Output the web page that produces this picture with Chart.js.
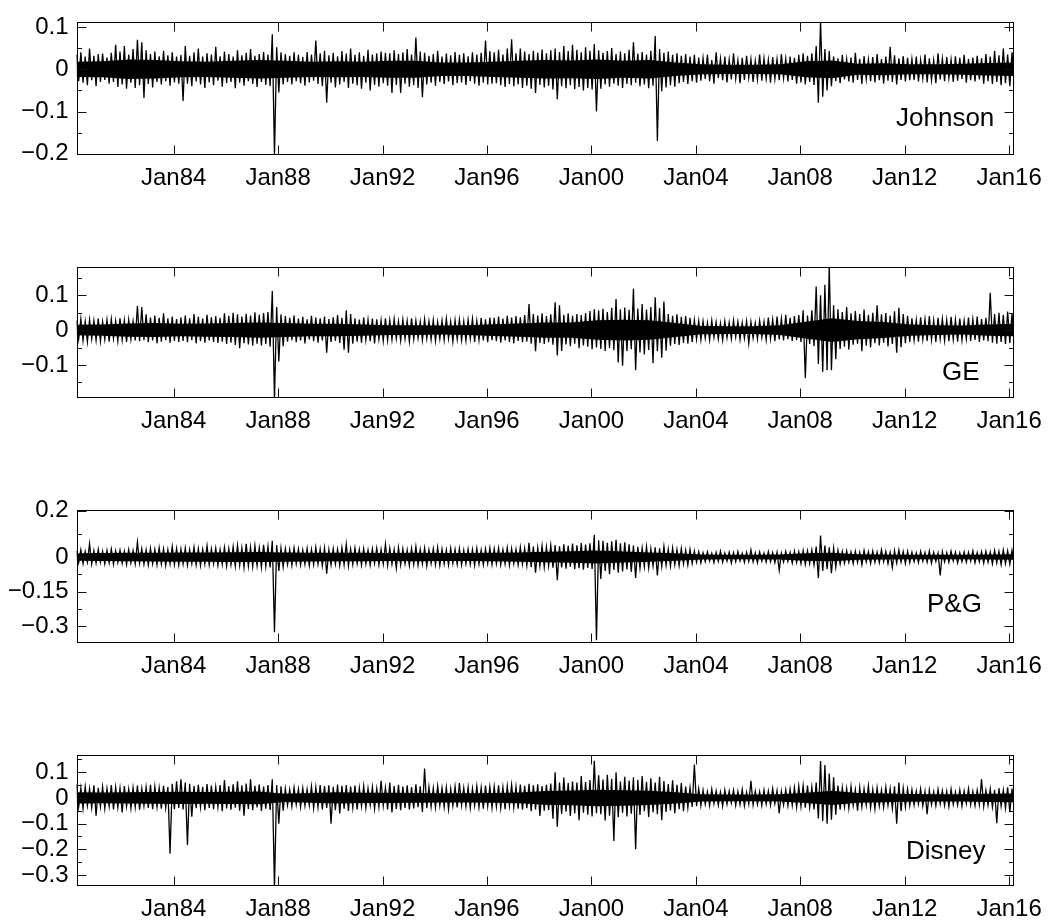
<!DOCTYPE html>
<html>
<head>
<meta charset="utf-8">
<title>Daily returns</title>
<script src="https://cdn.jsdelivr.net/npm/chart.js@4.4.1/dist/chart.umd.min.js"></script>
<style>
  body { margin: 0; background: #fff; width: 1051px; height: 921px; position: relative; overflow: hidden; }
  canvas { position: absolute; left: 0; }
</style>
</head>
<body>
<canvas id="jnj" width="1051" height="205" style="top:0px"></canvas>
<canvas id="ge" width="1051" height="203" style="top:245px"></canvas>
<canvas id="pg" width="1051" height="205" style="top:488px"></canvas>
<canvas id="dis" width="1051" height="203" style="top:733px"></canvas>
<script>
// Daily returns, summarised as high / low per two-month bin (in percent),
// bins start in April 1980 and run to early 2016. Rows are four years each.
const binStart = 1980.277;
const stepYears = 1 / 12;

const tickYears = [1984, 1988, 1992, 1996, 2000, 2004, 2008, 2012, 2016];
const tickLabels = ['Jan84', 'Jan88', 'Jan92', 'Jan96', 'Jan00', 'Jan04', 'Jan08', 'Jan12', 'Jan16'];

const jnjHi = [
  3.5, 4.0, 3.0, 4.9, 3.2, 3.6, 3.7, 2.8, 3.9, 5.8, 4.2, 5.5, 3.5, 4.8, 7.0, 6.4, 4.5, 3.6, 4.2, 3.1, 4.4, 3.3, 4.0, 3.0,
  3.4, 5.5, 3.2, 4.0, 4.9, 3.0, 3.8, 3.5, 5.3, 3.1, 4.2, 3.6, 3.0, 4.5, 3.3, 3.9, 4.8, 3.2, 3.6, 4.1, 3.5, 8.3, 5.2, 4.0,
  3.6, 3.2, 4.0, 3.4, 2.9, 4.1, 3.5, 6.8, 3.8, 4.4, 3.3, 3.9, 3.1, 4.3, 3.7, 4.9, 3.4, 4.0, 3.2, 4.6, 3.5, 3.8, 4.2, 3.9,
  3.8, 4.5, 3.6, 4.0, 4.8, 3.5, 7.5, 4.2, 3.9, 3.2, 3.6, 4.4, 3.0, 3.7, 3.3, 4.1, 3.4, 3.8, 3.1, 4.0, 3.5, 3.9, 6.8, 4.3,
  4.0, 4.6, 3.5, 4.9, 7.1, 3.8, 4.9, 4.2, 3.6, 4.4, 3.9, 4.7, 3.8, 4.5, 4.9, 4.1, 5.5, 4.3, 5.8, 4.6, 4.0, 5.2, 4.4, 6.0,
  4.5, 3.9, 4.3, 5.0, 3.6, 4.2, 3.8, 4.6, 6.4, 3.7, 4.1, 3.5, 4.4, 7.9, 4.8, 3.9, 4.2, 3.4, 3.8, 3.2, 3.6, 3.0, 3.4, 2.8,
  2.6, 3.4, 2.2, 4.0, 2.5, 3.0, 2.3, 3.8, 2.1, 2.7, 3.2, 2.4, 2.0, 3.5, 2.6, 2.2, 2.9, 2.4, 3.6, 2.5, 3.0, 2.7, 3.4, 3.8,
  3.2, 3.8, 5.5, 11.5, 4.8, 4.3, 3.0, 2.6, 3.4, 2.4, 2.8, 3.9, 2.5, 3.1, 2.3, 2.9, 3.6, 2.4, 3.0, 5.3, 3.3, 2.6, 3.1, 2.7,
  2.4, 3.0, 2.2, 3.5, 2.6, 2.1, 3.8, 2.5, 2.9, 2.3, 3.1, 2.7, 3.4, 2.4, 2.8, 3.2, 2.6, 3.6, 3.0, 4.4, 3.3, 4.9, 3.5, 4.0
];
const jnjLo = [
  -2.8, -3.2, -3.8, -2.6, -4.0, -3.0, -2.5, -3.4, -3.0, -4.2, -3.6, -4.6, -3.2, -4.4, -3.8, -6.8, -3.5, -4.3, -3.0, -3.6, -2.8, -3.9, -3.1, -3.4,
  -7.5, -3.4, -4.0, -2.9, -3.6, -4.4, -3.1, -3.8, -2.7, -4.1, -3.3, -3.0, -4.5, -3.2, -3.9, -2.8, -3.5, -4.2, -3.0, -3.7, -4.0, -20.5, -5.5, -3.6,
  -3.0, -3.6, -2.8, -3.3, -3.9, -3.1, -2.7, -3.5, -4.0, -7.9, -3.2, -4.3, -3.6, -3.0, -4.4, -3.4, -3.8, -4.6, -3.2, -5.0, -3.7, -4.1, -3.3, -3.9,
  -5.6, -3.7, -5.6, -3.4, -4.1, -3.8, -4.4, -6.6, -3.6, -3.2, -3.9, -3.0, -3.5, -2.9, -3.8, -3.3, -3.1, -3.7, -2.8, -3.4, -3.9, -3.2, -3.6, -3.4,
  -3.3, -3.8, -4.2, -3.5, -4.0, -3.6, -4.4, -3.9, -4.6, -5.6, -3.7, -4.3, -3.9, -4.8, -7.1, -4.0, -4.5, -3.8, -4.7, -4.2, -5.0, -4.4, -4.8, -10.0,
  -4.6, -3.6, -4.1, -3.4, -3.9, -4.4, -3.5, -3.8, -3.2, -4.0, -3.6, -4.5, -3.9, -17.0, -5.2, -4.3, -3.8, -4.1, -3.3, -3.0, -3.5, -2.8, -3.2, -2.7,
  -2.3, -2.8, -3.4, -2.1, -2.6, -3.1, -2.4, -2.2, -3.3, -2.5, -2.0, -3.0, -2.4, -2.7, -2.2, -3.2, -2.3, -2.6, -2.1, -2.9, -2.5, -3.4, -3.1, -3.6,
  -3.0, -3.7, -7.9, -6.5, -5.0, -4.0, -2.8, -3.3, -2.4, -2.9, -3.2, -2.5, -3.5, -2.3, -2.8, -3.1, -2.6, -3.4, -2.7, -3.0, -3.6, -2.5, -2.9, -2.6,
  -2.5, -2.9, -2.2, -3.1, -2.6, -3.3, -2.4, -2.8, -2.1, -3.0, -2.7, -2.3, -3.2, -2.6, -2.9, -2.4, -3.4, -2.8, -3.5, -3.0, -3.8, -3.3, -4.0, -3.5
];
// half-width of the dense part of the band, one value per year
const jnjCore = [1.8, 1.9, 2.3, 2.2, 1.9, 1.8, 2.0, 2.2, 2.0, 1.8, 1.9, 1.8, 2.0, 2.0, 1.6, 1.6, 1.8, 2.0, 2.2, 2.1, 2.3, 2.0, 2.2, 1.6, 1.2, 1.1, 1.1, 1.2, 1.9, 2.1, 1.3, 1.4, 1.2, 1.2, 1.3, 1.5, 1.6];

const geHi = [
  2.8, 3.2, 2.5, 3.0, 2.7, 3.3, 2.4, 2.9, 3.1, 2.6, 3.4, 2.8, 3.0, 2.5, 7.0, 6.6, 4.5, 3.6, 4.2, 3.5, 4.8, 3.4, 3.9, 3.2,
  3.6, 4.2, 3.4, 4.6, 3.8, 3.3, 4.4, 3.7, 4.0, 3.5, 4.8, 4.1, 5.0, 4.5, 3.9, 4.7, 4.2, 5.1, 4.4, 4.9, 5.2, 11.2, 6.6, 4.5,
  4.0, 3.5, 4.2, 3.3, 3.8, 3.1, 4.1, 3.6, 3.4, 3.9, 3.2, 3.7, 4.3, 3.5, 5.7, 4.6, 3.4, 3.0, 3.6, 2.9, 3.3, 3.1, 2.8, 3.4,
  2.8, 3.2, 2.5, 3.0, 2.6, 3.4, 2.7, 2.4, 3.1, 2.5, 2.9, 2.3, 2.7, 3.3, 2.4, 2.8, 3.0, 2.5, 2.9, 3.2, 2.6, 3.5, 3.1, 3.6,
  3.5, 3.9, 3.3, 4.1, 3.6, 4.0, 3.7, 4.3, 7.5, 4.6, 4.2, 4.8, 4.0, 4.5, 8.0, 7.1, 4.4, 4.8, 4.1, 4.6, 4.3, 4.9, 5.5, 6.0,
  5.6, 6.1, 5.2, 6.4, 8.9, 6.0, 6.5, 5.8, 11.9, 6.2, 7.5, 5.9, 6.6, 9.4, 6.3, 8.2, 4.6, 4.1, 4.5, 3.8, 4.0, 3.5, 2.8, 2.6,
  2.5, 2.1, 2.7, 2.3, 2.0, 2.6, 2.2, 2.8, 2.4, 2.1, 2.5, 2.3, 2.0, 2.7, 2.4, 3.6, 3.0, 3.9, 3.3, 4.4, 3.5, 4.0, 4.3, 5.7,
  4.2, 5.7, 12.5, 10.0, 13.0, 18.5, 7.1, 6.0, 5.2, 6.6, 4.8, 5.5, 4.6, 5.9, 4.4, 5.0, 7.1, 4.5, 4.9, 4.2, 5.4, 6.4, 4.6, 4.1,
  3.4, 2.9, 3.7, 3.1, 4.0, 2.8, 3.5, 3.2, 2.9, 3.8, 3.0, 3.3, 2.7, 3.6, 3.1, 3.9, 3.2, 3.5, 10.7, 4.6, 5.0, 4.4, 5.3, 4.8
];
const geLo = [
  -2.6, -3.0, -3.4, -2.5, -2.9, -3.2, -2.7, -3.3, -2.4, -3.1, -2.8, -3.4, -2.6, -3.0, -3.2, -2.9, -3.5, -3.0, -3.8, -3.3, -2.9, -3.6, -3.1, -3.4,
  -3.1, -3.5, -2.9, -3.8, -3.2, -3.6, -3.0, -3.4, -3.7, -3.3, -4.0, -3.6, -4.3, -5.2, -3.8, -4.1, -4.5, -3.9, -4.4, -4.0, -4.8, -20.0, -9.0, -4.6,
  -3.3, -2.9, -3.5, -3.0, -3.8, -2.7, -3.2, -3.6, -3.0, -6.5, -3.4, -3.1, -3.7, -5.6, -6.5, -3.9, -3.3, -3.6, -2.8, -3.2, -3.8, -2.6, -3.1, -2.9,
  -2.7, -2.4, -3.0, -2.5, -3.2, -2.6, -2.3, -2.9, -2.4, -2.7, -3.1, -2.5, -2.8, -2.4, -3.3, -2.6, -2.9, -3.0, -2.5, -3.4, -2.8, -3.0, -3.5, -2.9,
  -3.2, -3.6, -3.0, -3.4, -3.8, -3.1, -3.5, -3.3, -3.9, -6.1, -3.7, -4.0, -3.5, -4.2, -7.3, -6.0, -4.1, -4.6, -3.9, -5.2, -4.4, -4.8, -5.5, -5.0,
  -5.4, -6.0, -5.1, -5.8, -9.3, -10.2, -6.0, -5.5, -11.5, -6.4, -7.0, -5.7, -9.5, -6.1, -7.9, -5.9, -4.5, -4.0, -4.3, -3.7, -3.9, -3.4, -2.6, -2.8,
  -2.3, -2.8, -2.1, -2.6, -2.9, -2.2, -2.5, -2.0, -2.7, -2.4, -3.8, -2.3, -2.6, -2.1, -2.8, -2.5, -3.2, -2.7, -3.0, -2.6, -3.1, -2.9, -3.4, -13.8,
  -4.0, -4.6, -9.7, -12.0, -11.5, -11.5, -8.4, -5.4, -4.8, -5.6, -4.2, -3.9, -6.1, -4.5, -5.0, -3.8, -4.4, -3.6, -4.7, -4.0, -6.5, -4.9, -3.8, -3.4,
  -2.9, -3.3, -2.6, -3.1, -2.8, -3.4, -2.5, -3.0, -3.2, -2.7, -3.3, -2.9, -2.6, -3.1, -2.8, -3.4, -3.0, -3.2, -3.6, -3.9, -3.4, -4.0, -3.7, -4.2
];
const geCore = [1.5, 1.6, 1.9, 2.0, 1.8, 1.9, 2.0, 2.2, 2.0, 1.8, 1.8, 1.6, 1.4, 1.4, 1.3, 1.4, 1.7, 1.9, 2.2, 2.2, 2.8, 3.0, 2.8, 2.0, 1.2, 1.1, 1.1, 1.4, 2.4, 3.4, 2.6, 2.3, 1.6, 1.4, 1.3, 1.6, 1.8];

const pgHi = [
  2.6, 3.1, 2.4, 5.7, 2.8, 3.3, 2.5, 2.9, 3.4, 2.7, 3.0, 2.5, 3.2, 2.8, 6.4, 3.6, 3.1, 3.8, 3.3, 4.0, 3.5, 3.2, 4.5, 3.6,
  3.4, 3.9, 3.1, 4.2, 3.6, 3.3, 4.8, 3.5, 3.8, 3.2, 4.1, 3.6, 4.4, 5.0, 3.9, 5.7, 4.3, 4.9, 4.0, 5.3, 4.6, 7.0, 5.2, 3.8,
  3.6, 3.2, 3.9, 3.4, 3.0, 3.7, 3.3, 4.2, 3.5, 3.8, 3.1, 3.6, 3.3, 4.0, 5.5, 3.4, 3.9, 3.2, 3.6, 3.0, 3.5, 3.8, 3.3, 5.5,
  3.8, 3.2, 4.1, 3.5, 3.0, 3.7, 4.5, 3.3, 3.9, 3.1, 3.6, 4.2, 3.4, 3.0, 3.8, 3.3, 3.6, 2.9, 3.4, 3.2, 3.7, 3.0, 3.5, 3.9,
  3.5, 3.9, 3.2, 4.0, 3.6, 3.3, 4.2, 3.7, 6.1, 4.5, 4.0, 4.8, 4.3, 5.0, 5.2, 4.6, 5.5, 4.9, 5.8, 5.1, 6.0, 5.4, 5.9, 9.6,
  7.2, 7.0, 6.2, 6.8, 7.5, 5.9, 6.4, 5.5, 5.0, 4.4, 3.9, 4.5, 3.6, 4.2, 3.8, 4.6, 3.4, 3.9, 3.2, 3.6, 2.9, 3.3, 2.6, 2.3,
  1.8, 2.2, 1.6, 2.0, 2.5, 1.7, 2.1, 1.9, 2.4, 1.6, 2.0, 3.1, 1.8, 2.2, 1.7, 2.3, 1.9, 2.1, 1.6, 2.4, 2.0, 2.6, 2.2, 2.8,
  2.6, 3.0, 4.5, 9.3, 5.0, 4.2, 3.8, 2.9, 2.4, 2.7, 2.2, 2.5, 2.0, 2.8, 2.3, 2.6, 2.1, 3.1, 2.4, 2.0, 2.7, 3.0, 2.3, 2.5,
  2.1, 1.8, 2.4, 1.9, 2.6, 2.0, 1.7, 2.3, 1.9, 2.5, 2.1, 1.8, 2.2, 2.0, 2.7, 1.9, 2.3, 2.5, 2.1, 2.8, 2.4, 3.0, 2.6, 2.9
];
const pgLo = [
  -2.4, -2.8, -2.2, -3.0, -2.6, -2.3, -2.9, -2.5, -3.1, -2.4, -2.7, -3.2, -2.5, -2.9, -2.6, -3.0, -3.4, -2.8, -3.3, -3.0, -3.6, -2.9, -3.2, -3.5,
  -3.0, -3.5, -2.8, -3.3, -3.7, -3.0, -3.4, -2.9, -3.6, -3.2, -3.8, -3.3, -4.0, -3.6, -4.5, -3.9, -4.2, -3.7, -4.4, -4.0, -4.5, -32.5, -6.0, -4.2,
  -3.2, -3.6, -2.9, -3.4, -3.1, -3.7, -3.3, -3.0, -3.8, -7.2, -3.4, -3.1, -3.6, -3.3, -3.9, -3.2, -2.8, -3.4, -3.0, -3.5, -2.7, -3.3, -3.0, -3.6,
  -3.1, -4.8, -3.4, -2.9, -3.7, -3.2, -3.5, -3.0, -3.8, -2.8, -3.3, -3.6, -3.0, -3.4, -2.7, -3.2, -3.5, -2.9, -3.1, -3.6, -3.0, -3.3, -2.8, -3.2,
  -2.9, -3.3, -3.0, -3.5, -2.8, -3.4, -3.1, -3.6, -4.4, -6.8, -3.9, -4.3, -3.8, -4.6, -10.0, -4.5, -5.0, -4.2, -5.3, -4.8, -5.5, -4.7, -5.2, -36.0,
  -9.5, -6.0, -7.4, -5.6, -6.8, -6.2, -5.4, -6.5, -9.0, -4.8, -4.2, -4.6, -3.8, -8.0, -4.1, -3.6, -4.0, -3.3, -3.7, -3.0, -3.4, -2.8, -2.2, -2.5,
  -2.0, -1.7, -2.4, -1.9, -2.2, -1.8, -2.6, -2.0, -1.7, -2.3, -1.9, -2.1, -2.5, -1.8, -2.2, -2.0, -2.4, -5.7, -2.1, -1.9, -2.6, -2.3, -2.8, -3.2,
  -2.8, -3.4, -9.1, -6.0, -5.2, -7.0, -4.4, -3.0, -2.6, -2.2, -2.8, -2.4, -3.3, -2.1, -2.7, -2.3, -2.5, -2.0, -2.9, -4.5, -2.6, -2.2, -2.8, -2.4,
  -2.0, -2.4, -1.8, -2.2, -2.6, -1.9, -8.0, -2.1, -2.3, -1.7, -2.5, -2.0, -2.2, -1.8, -2.4, -2.1, -2.7, -2.3, -2.9, -2.5, -3.3, -2.8, -3.1, -2.9
];
const pgCore = [1.6, 1.7, 1.8, 1.9, 2.0, 2.0, 2.1, 2.2, 2.0, 1.9, 1.8, 1.8, 1.7, 1.8, 1.7, 1.7, 1.8, 2.0, 2.3, 2.5, 2.8, 2.4, 2.0, 1.6, 1.1, 1.0, 1.0, 1.1, 1.6, 1.8, 1.2, 1.1, 1.0, 1.0, 1.0, 1.1, 1.2];

const disHi = [
  5.2, 3.8, 4.4, 3.5, 4.9, 3.9, 4.3, 3.6, 5.0, 4.1, 3.7, 4.6, 3.4, 4.0, 4.8, 3.6, 4.2, 5.1, 4.4, 3.9, 4.7, 4.2, 5.5, 6.5,
  7.3, 6.0, 5.5, 4.6, 5.1, 4.3, 5.4, 4.8, 4.2, 5.0, 7.0, 4.5, 5.3, 6.5, 4.9, 5.6, 7.3, 4.7, 5.2, 4.4, 5.0, 7.3, 5.0, 4.5,
  3.6, 3.2, 4.0, 3.4, 3.8, 3.3, 4.5, 4.1, 5.0, 4.6, 4.9, 4.3, 5.2, 4.7, 5.0, 4.4, 4.8, 3.9, 4.6, 3.7, 4.2, 3.6, 6.7, 4.0,
  6.0, 4.6, 5.1, 4.4, 4.9, 4.2, 5.3, 4.5, 11.4, 4.3, 3.8, 4.6, 3.9, 4.1, 3.6, 4.4, 5.8, 3.9, 4.2, 3.7, 4.5, 4.0, 4.8, 4.3,
  4.4, 4.9, 4.1, 4.6, 5.0, 4.3, 5.2, 4.7, 5.5, 4.9, 5.3, 4.6, 5.1, 5.6, 10.0, 6.0, 7.9, 5.8, 6.4, 6.0, 8.5, 6.2, 7.0, 14.5,
  8.8, 7.2, 9.0, 7.5, 10.0, 6.4, 8.2, 6.8, 8.0, 7.1, 8.5, 6.3, 7.6, 6.0, 8.2, 6.6, 5.4, 6.9, 5.1, 5.8, 4.4, 4.0, 13.0, 3.6,
  3.0, 2.4, 3.4, 2.7, 2.3, 3.1, 2.6, 2.9, 2.5, 3.3, 2.2, 6.7, 2.6, 2.4, 3.0, 2.7, 3.6, 2.8, 2.5, 3.2, 3.5, 4.0, 4.6, 4.8,
  4.8, 4.2, 6.0, 14.4, 12.8, 9.5, 8.0, 4.8, 4.0, 3.6, 4.4, 3.2, 4.1, 3.5, 4.7, 3.3, 3.9, 3.0, 4.2, 3.6, 4.5, 6.0, 3.8, 3.4,
  3.2, 2.7, 3.5, 2.5, 3.0, 2.4, 3.3, 2.8, 2.6, 3.4, 2.3, 3.1, 2.7, 3.6, 2.5, 3.0, 7.3, 2.9, 3.5, 3.2, 3.8, 3.0, 4.1, 3.6
];
const disLo = [
  -3.5, -4.2, -3.0, -3.8, -6.9, -3.4, -4.1, -3.2, -4.5, -3.7, -5.7, -3.3, -4.0, -3.6, -4.6, -3.1, -3.9, -4.4, -3.5, -4.2, -3.8, -21.7, -4.4, -3.9,
  -4.5, -18.3, -7.3, -4.0, -3.6, -4.8, -3.9, -4.4, -3.5, -5.2, -4.1, -4.6, -3.8, -5.0, -6.9, -4.3, -4.8, -3.7, -5.1, -4.2, -4.7, -35.0, -10.0, -5.0,
  -2.8, -3.3, -2.6, -3.5, -3.0, -2.9, -4.0, -3.6, -4.5, -3.9, -10.0, -4.8, -6.0, -4.2, -5.1, -3.8, -4.5, -3.2, -3.9, -2.8, -4.2, -3.5, -3.0, -4.5,
  -5.7, -4.3, -4.8, -3.9, -4.5, -4.1, -3.6, -5.5, -4.0, -3.4, -3.8, -2.9, -3.5, -4.4, -3.1, -3.7, -2.8, -3.3, -3.9, -3.0, -3.6, -4.2, -3.2, -3.8,
  -3.4, -3.9, -4.4, -3.1, -3.7, -4.2, -4.6, -4.0, -5.2, -4.5, -7.0, -5.0, -4.7, -8.1, -11.2, -6.2, -5.4, -7.0, -6.0, -8.7, -5.8, -6.5, -7.2, -6.0,
  -6.3, -8.8, -6.9, -16.8, -7.5, -5.8, -7.2, -6.1, -20.0, -6.6, -5.2, -7.4, -5.6, -6.3, -8.7, -5.5, -4.9, -6.0, -4.4, -5.2, -3.8, -3.5, -3.2, -3.0,
  -2.5, -3.0, -2.2, -2.8, -3.2, -2.4, -2.0, -2.9, -2.6, -3.1, -2.3, -2.7, -2.5, -3.0, -2.4, -2.8, -2.2, -6.0, -2.7, -3.1, -2.9, -3.6, -3.3, -3.8,
  -3.6, -4.5, -8.0, -9.0, -10.0, -8.5, -6.5, -4.6, -3.4, -4.0, -3.0, -5.0, -3.5, -2.8, -3.8, -4.3, -3.1, -3.6, -2.9, -4.1, -10.0, -5.2, -3.5, -3.0,
  -2.8, -2.4, -3.1, -6.3, -2.6, -3.0, -2.3, -2.9, -3.4, -2.5, -2.8, -3.2, -2.2, -2.7, -3.0, -2.6, -3.3, -2.9, -3.6, -9.8, -3.2, -4.0, -5.6, -4.2
];
const disCore = [2.2, 2.1, 2.2, 2.3, 2.4, 2.3, 2.4, 2.5, 1.6, 1.9, 2.2, 2.0, 2.0, 1.9, 1.8, 1.8, 1.9, 2.1, 2.7, 2.9, 3.2, 3.0, 2.8, 2.2, 1.4, 1.3, 1.3, 1.4, 2.0, 2.8, 1.9, 1.7, 1.5, 1.4, 1.4, 1.6, 1.7];

const FONT = '"Liberation Sans", Arial, Helvetica, sans-serif';
Chart.defaults.font.family = FONT;
Chart.defaults.color = '#000';

// each bin becomes two points: its high, then its low
function zigzag(hi, lo) {
  const pts = [];
  const n = Math.min(hi.length, lo.length);
  for (let i = 0; i < n; i++) {
    pts.push({ x: binStart + 2 * i * stepYears, y: hi[i] / 100 });
    pts.push({ x: binStart + (2 * i + 1) * stepYears, y: lo[i] / 100 });
  }
  return pts;
}

// yearly core half-widths spread evenly over the plotted span
function corePoints(core, xMax, sign) {
  const step = (xMax - binStart) / (core.length - 1);
  return core.map((v, k) => ({ x: binStart + k * step, y: sign * v / 100 }));
}

function fmtTick(v) {
  if (Math.abs(v) < 1e-9) return '0';
  const s = String(Math.round(Math.abs(v) * 1000) / 1000);
  return (v < 0 ? '\u2212' : '') + s;
}

function makePanel(id, hi, lo, core, p) {
  const xMax = binStart + (2 * hi.length - 1) * stepYears;

  // box, inward tick marks and the panel name
  const frame = {
    id: 'frame_' + id,
    afterDatasetsDraw(chart) {
      const { ctx, chartArea: a, scales: { x, y } } = chart;
      const L = Math.round(a.left) + 0.5, R = Math.round(a.right) - 0.5;
      const T = Math.round(a.top) + 0.5, B = Math.round(a.bottom) - 0.5;
      ctx.save();
      ctx.strokeStyle = '#111';
      ctx.lineWidth = 1;
      ctx.beginPath();
      tickYears.forEach(v => {
        const px = Math.round(x.getPixelForValue(v)) + 0.5;
        ctx.moveTo(px, B); ctx.lineTo(px, B - 9);
        ctx.moveTo(px, T); ctx.lineTo(px, T + 9);
      });
      p.major.forEach(v => {
        const py = Math.round(y.getPixelForValue(v)) + 0.5;
        ctx.moveTo(L, py); ctx.lineTo(L + 9, py);
        ctx.moveTo(R, py); ctx.lineTo(R - 9, py);
      });
      p.minor.forEach(v => {
        const py = Math.round(y.getPixelForValue(v)) + 0.5;
        ctx.moveTo(L, py); ctx.lineTo(L + 4.5, py);
        ctx.moveTo(R, py); ctx.lineTo(R - 4.5, py);
      });
      ctx.stroke();
      ctx.strokeStyle = '#000';
      ctx.strokeRect(L, T, R - L, B - T);
      ctx.fillStyle = '#000';
      ctx.font = '26px ' + FONT;
      ctx.textAlign = 'left';
      ctx.textBaseline = 'alphabetic';
      ctx.fillText(p.name, p.nameX, a.bottom - p.nameLift);
      ctx.restore();
    }
  };

  return new Chart(document.getElementById(id), {
    type: 'line',
    data: {
      datasets: [{
        data: zigzag(hi, lo),
        borderColor: '#000',
        borderWidth: 1.3,
        pointRadius: 0,
        tension: 0,
        clip: 0
      }, {
        data: corePoints(core, xMax, 1),
        borderWidth: 0,
        pointRadius: 0,
        backgroundColor: '#000',
        fill: '+1',
        clip: 0
      }, {
        data: corePoints(core, xMax, -1),
        borderWidth: 0,
        pointRadius: 0,
        fill: false,
        clip: 0
      }]
    },
    options: {
      responsive: false,
      animation: false,
      events: [],
      layout: { padding: { top: 15, right: 34.3, bottom: 0, left: 0 } },
      plugins: { legend: { display: false }, tooltip: { enabled: false } },
      scales: {
        x: {
          type: 'linear',
          min: binStart,
          max: xMax,
          grid: { display: false, drawTicks: false },
          border: { display: false },
          afterBuildTicks: s => { s.ticks = tickYears.map(v => ({ value: v })); },
          afterFit: s => { s.height = 50; },
          ticks: {
            autoSkip: false,
            maxRotation: 0,
            padding: 9,
            font: { size: 24 },
            callback: v => tickLabels[tickYears.indexOf(v)]
          }
        },
        y: {
          min: p.yMin,
          max: p.yMax,
          grid: { display: false, drawTicks: false },
          border: { display: false },
          afterBuildTicks: s => { s.ticks = p.major.map(v => ({ value: v })); },
          afterFit: s => { s.width = 76.5; },
          ticks: { padding: 8, font: { size: 24 }, callback: v => fmtTick(v) }
        }
      }
    },
    plugins: [frame]
  });
}

makePanel('jnj', jnjHi, jnjLo, jnjCore, {
  yMin: -0.203, yMax: 0.111,
  major: [-0.2, -0.1, 0, 0.1], minor: [-0.15, -0.05, 0.05],
  name: 'Johnson', nameX: 896, nameLift: 29
});
makePanel('ge', geHi, geLo, geCore, {
  yMin: -0.195, yMax: 0.18,
  major: [-0.1, 0, 0.1], minor: [-0.15, -0.05, 0.05, 0.15],
  name: 'GE', nameX: 942, nameLift: 18
});
makePanel('pg', pgHi, pgLo, pgCore, {
  yMin: -0.3715, yMax: 0.2015,
  major: [-0.3, -0.15, 0, 0.2], minor: [-0.225, -0.075, 0.1],
  name: 'P&G', nameX: 927, nameLift: 31.5
});
makePanel('dis', disHi, disLo, disCore, {
  yMin: -0.343, yMax: 0.1656,
  major: [-0.3, -0.2, -0.1, 0, 0.1], minor: [-0.25, -0.15, -0.05, 0.05, 0.15],
  name: 'Disney', nameX: 906, nameLift: 27.5
});
</script>
</body>
</html>
